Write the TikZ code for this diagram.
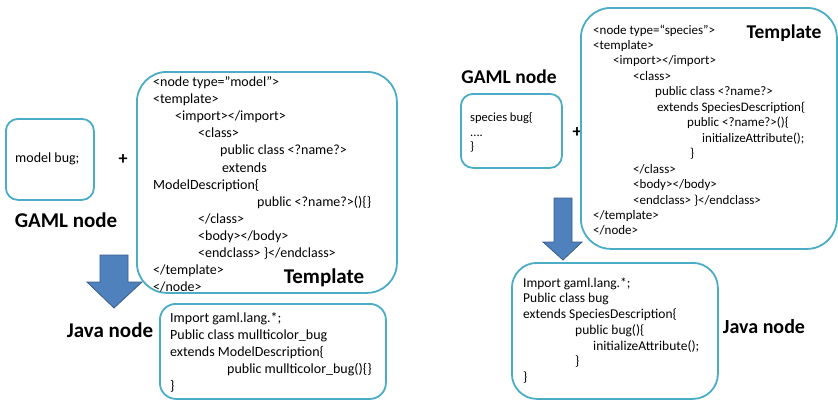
\documentclass[tikz,border=0pt]{standalone}
\usepackage{fontspec}
\setmainfont{Carlito}
\definecolor{boxblue}{HTML}{4BACC6}
\definecolor{arrfill}{HTML}{4F81BD}
\definecolor{arrline}{HTML}{385D8A}
\newcommand\myind[1]{\hspace*{#1pt}}
\begin{document}
\begin{tikzpicture}[x=1pt,y=-1pt,
  box/.style={draw=boxblue, line width=1.8pt, anchor=north west, inner sep=0pt},
  code/.style={anchor=north west, inner sep=0pt, align=left, text=black},
  lbl/.style={font=\bfseries\fontsize{21}{25}\selectfont, inner sep=0pt},
  lbls/.style={font=\bfseries\fontsize{19.5}{23}\selectfont, inner sep=0pt},
  plus/.style={font=\bfseries\fontsize{18}{20}\selectfont, inner sep=0pt},
  blockarrow/.style={fill=arrfill, draw=arrline, line width=0.8pt}]
\useasboundingbox (0,0) rectangle (838,400);

% ---------- left side ----------
\node[box, rounded corners=12pt, minimum width=88pt, minimum height=81pt] (gamlA) at (5,118) {};
\node[code, anchor=west, font=\fontsize{14}{17}\selectfont] (gamlAtxt) at (15,159) {model bug;};
\node[plus] (plusA) at (123,160) {+};
\node[lbl] (gamlAlbl) at (66,220) {GAML node};

\node[box, rounded corners=30pt, minimum width=260pt, minimum height=221pt] (tplA) at (136,71) {};
\node[code, font=\fontsize{14}{17.1}\selectfont] (tplAtxt) at (153,76.5) {%
<node type="model">\\
<template>\\
\myind{22}<import></import>\\
\myind{45}<class>\\
\myind{67}public class <?name?>\\
\myind{69}extends\\
ModelDescription\{\\
\myind{104}public <?name?>()\{\}\\
\myind{45}</class>\\
\myind{45}<body></body>\\
\myind{45}<endclass> \}</endclass>\\
</template>\\
</node>};
\node[lbl] (tplAlbl) at (324,278) {Template};

\draw[blockarrow] (100,255) -- (128,255) -- (128,282) -- (142,282) -- (114,308)
  -- (87,282) -- (100,282) -- cycle;

\node[lbl] (javaAlbl) at (110,330) {Java node};
\node[box, rounded corners=16pt, minimum width=226pt, minimum height=95pt] (javaA) at (159,303) {};
\node[code, font=\fontsize{14}{17}\selectfont] (javaAtxt) at (170,312.5) {%
Import gaml.lang.*;\\
Public class mullticolor\_bug\\
extends ModelDescription\{\\
\myind{57}public mullticolor\_bug()\{\}\\
\}};

% ---------- right side ----------
\node[lbls] (gamlBlbl) at (509,77) {GAML node};
\node[box, rounded corners=12pt, minimum width=101pt, minimum height=74pt] (gamlB) at (460,93) {};
\node[code, font=\fontsize{12.5}{14.5}\selectfont] (gamlBtxt) at (470,112.5) {%
species bug\{\\
....\\
\}};
\node[plus] (plusB) at (577,133) {+};

\node[box, rounded corners=30pt, minimum width=256pt, minimum height=241pt] (tplB) at (580,7) {};
\node[code, font=\fontsize{13}{15.45}\selectfont] (tplBtxt) at (593,24.5) {%
<node type=“species">\\
<template>\\
\myind{20}<import></import>\\
\myind{40}<class>\\
\myind{62}public class <?name?>\\
\myind{64}extends SpeciesDescription\{\\
\myind{94}public <?name?>()\{\\
\myind{109}initializeAttribute();\\
\myind{97}\}\\
\myind{40}</class>\\
\myind{40}<body></body>\\
\myind{40}<endclass> \}</endclass>\\
</template>\\
</node>};
\node[lbls] (tplBlbl) at (784,33) {Template};

\draw[blockarrow] (554,198) -- (572,198) -- (572,242) -- (582,242) -- (563,260)
  -- (543,242) -- (554,242) -- cycle;

\node[box, rounded corners=25pt, minimum width=206pt, minimum height=136pt] (javaB) at (511,262) {};
\node[code, font=\fontsize{13.5}{15.7}\selectfont] (javaBtxt) at (523,277.5) {%
Import gaml.lang.*;\\
Public class bug\\
extends SpeciesDescription\{\\
\myind{52}public bug()\{\\
\myind{70}initializeAttribute();\\
\myind{52}\}\\
\}};
\node[lbl, font=\bfseries\fontsize{20}{24}\selectfont] (javaBlbl) at (764,327) {Java node};
\end{tikzpicture}
\end{document}
